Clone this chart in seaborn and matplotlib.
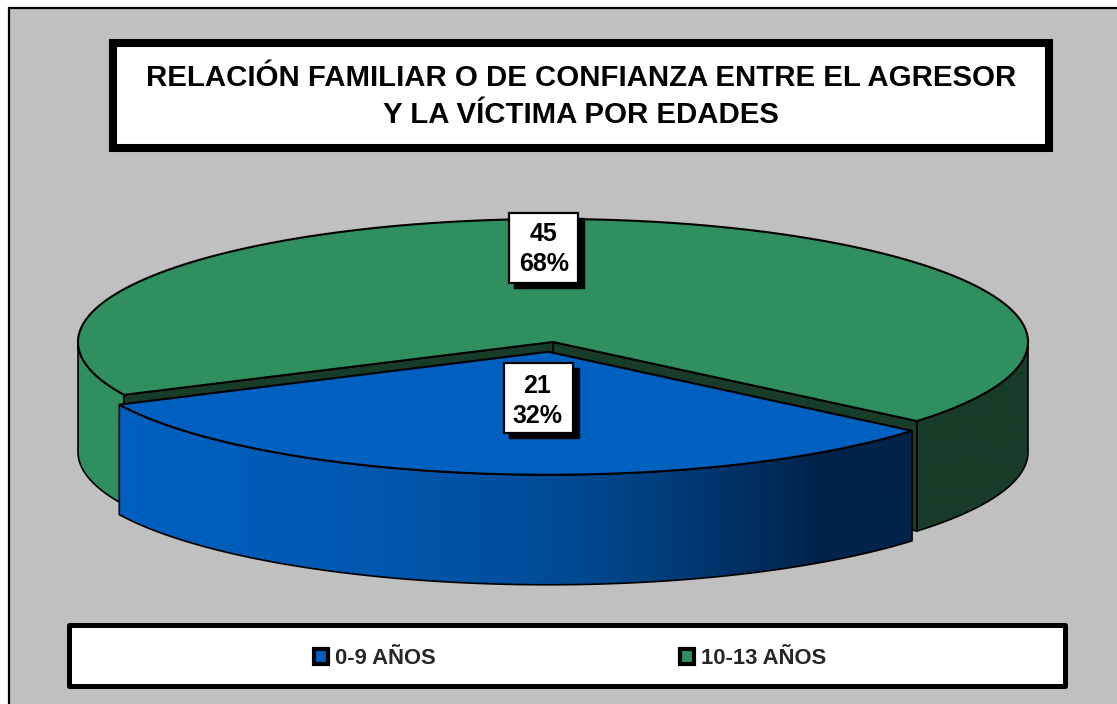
import numpy as np
import matplotlib
matplotlib.use('Agg')
import matplotlib.pyplot as plt
from matplotlib.colors import LinearSegmentedColormap
from matplotlib.patches import Patch, Polygon, Rectangle
import seaborn as sns

title_lines = ['RELACIÓN FAMILIAR O DE CONFIANZA ENTRE EL AGRESOR', 'Y LA VÍCTIMA POR EDADES']
categories = ['0-9 AÑOS', '10-13 AÑOS']
counts = [21, 45]
percents = ['32%', '68%']

sns.set_theme(style='white')
plt.rcParams['font.family'] = ['Liberation Sans', 'DejaVu Sans']

BLUE = '#0060C0'
GREEN = '#2F8F5F'
GREEN_DARK = '#173C28'
GREY = '#C0C0C0'
blue_shades = [(0, BLUE), (0.25, '#005AB4'), (0.5, '#004F9E'), (0.65, '#004283'),
               (0.8, '#002E60'), (0.88, '#00234B'), (1, '#00234B')]

# pie geometry, in pixels
cx, cy = 553, 342
rx, ry = 475, 123
depth = 110
explode = 0.08
first_edge = -40


def rim(theta, dx=0, dy=0):
    t = np.radians(theta)
    return cx + dx + rx * np.cos(t), cy + dy - ry * np.sin(t)


def wall(ax, t0, t1, colors, z, dx=0, dy=0):
    # side of the cake between two angles, shaded from left to right
    th = np.linspace(t0, t1, 200)
    x, y = rim(th, dx, dy)
    pts = np.r_[np.c_[x, y], np.c_[x[::-1], y[::-1] + depth]]
    outline = Polygon(pts, closed=True, fc='none', ec='black', lw=1.2, zorder=z + 0.1)
    ax.add_patch(outline)
    cmap = LinearSegmentedColormap.from_list('w', colors, N=512)
    grad = np.linspace(0, 1, 512).reshape(1, -1)
    im = ax.imshow(grad, cmap=cmap, aspect='auto', zorder=z,
                   extent=(x.min(), x.max(), y.max() + depth, y.min()))
    im.set_clip_path(outline)


fig = plt.figure(figsize=(11.17, 7.04), dpi=100, facecolor='white')
ax = fig.add_axes([0, 0, 1, 1])
ax.set_axis_off()

# outer chart area
ax.add_patch(Rectangle((9, 8), 1130, 720, fc=GREY, ec='black', lw=1.6, zorder=0))

# slice angles come from the counts
sweep = 360 * np.array(counts) / sum(counts)
blue_start = first_edge
blue_end = first_edge - sweep[0]
mid = np.radians((blue_start + blue_end) / 2)
bdx = explode * rx * np.cos(mid)
bdy = -explode * ry * np.sin(mid)

# green: outer walls, cut faces, top
wall(ax, -180, blue_end, [GREEN, GREEN], 3)
wall(ax, blue_start, 0, [GREEN_DARK, GREEN_DARK], 3)
for edge in (blue_end, blue_start):
    x, y = rim(edge)
    ax.add_patch(Polygon([(cx, cy), (x, y), (x, y + depth), (cx, cy + depth)], closed=True,
                         fc=GREEN_DARK, ec='black', lw=1.2, zorder=4))
th = np.linspace(blue_start, blue_end + 360, 400)
x, y = rim(th)
ax.add_patch(Polygon(np.r_[[(cx, cy)], np.c_[x, y]], closed=True, fc=GREEN, ec='black', lw=1.5, zorder=5))

# blue slice pulled out of the pie
wall(ax, blue_end, blue_start, blue_shades, 6, bdx, bdy)
th = np.linspace(blue_end, blue_start, 200)
x, y = rim(th, bdx, bdy)
ax.add_patch(Polygon(np.r_[[(cx + bdx, cy + bdy)], np.c_[x, y]], closed=True, fc=BLUE, ec='black', lw=1.5, zorder=7))

# value labels with the hard shadow
label_boxes = [(504, 363, 33, 38), (509, 213, 35, 36)]
for (bx, by, tx, ty), n, p in zip(label_boxes, counts, percents):
    ax.add_patch(Rectangle((bx + 5, by + 5), 70, 70, fc='black', ec='black', lw=1, zorder=8))
    ax.add_patch(Rectangle((bx, by), 69, 70, fc='white', ec='black', lw=1.6, zorder=9))
    ax.text(bx + tx, by + ty, f'{n}\n{p}', ha='center', va='center', fontsize=18, fontweight='bold',
            linespacing=1.3, color='black', zorder=10)

# title box
ax.add_patch(Rectangle((113, 43), 936, 105, fc='white', ec='black', lw=5.8, zorder=8))
ax.text(581, 96.5, '\n'.join(title_lines), ha='center', va='center', fontsize=21.15, fontweight='bold',
        linespacing=1.44, color='black', zorder=9)

# legend box
ax.add_patch(Rectangle((68.5, 625), 996, 61, fc='white', ec='black', lw=3.6, joinstyle='round', zorder=8))
handles = [Patch(fc=BLUE, ec='black', lw=3, joinstyle='round'), Patch(fc=GREEN, ec='black', lw=3, joinstyle='round')]
leg = ax.legend(handles, categories, loc='center', bbox_to_anchor=(570, 659),
                bbox_transform=ax.transData, ncol=2, frameon=False, handlelength=0.65, handleheight=0.65,
                handletextpad=0.3, columnspacing=11.15,
                prop={'family': 'Liberation Sans', 'weight': 'bold', 'size': 15.8})
leg.set_zorder(10)

ax.set_xlim(0, 1117)
ax.set_ylim(704, 0)
fig.savefig('out.png', dpi=100, facecolor='white')
